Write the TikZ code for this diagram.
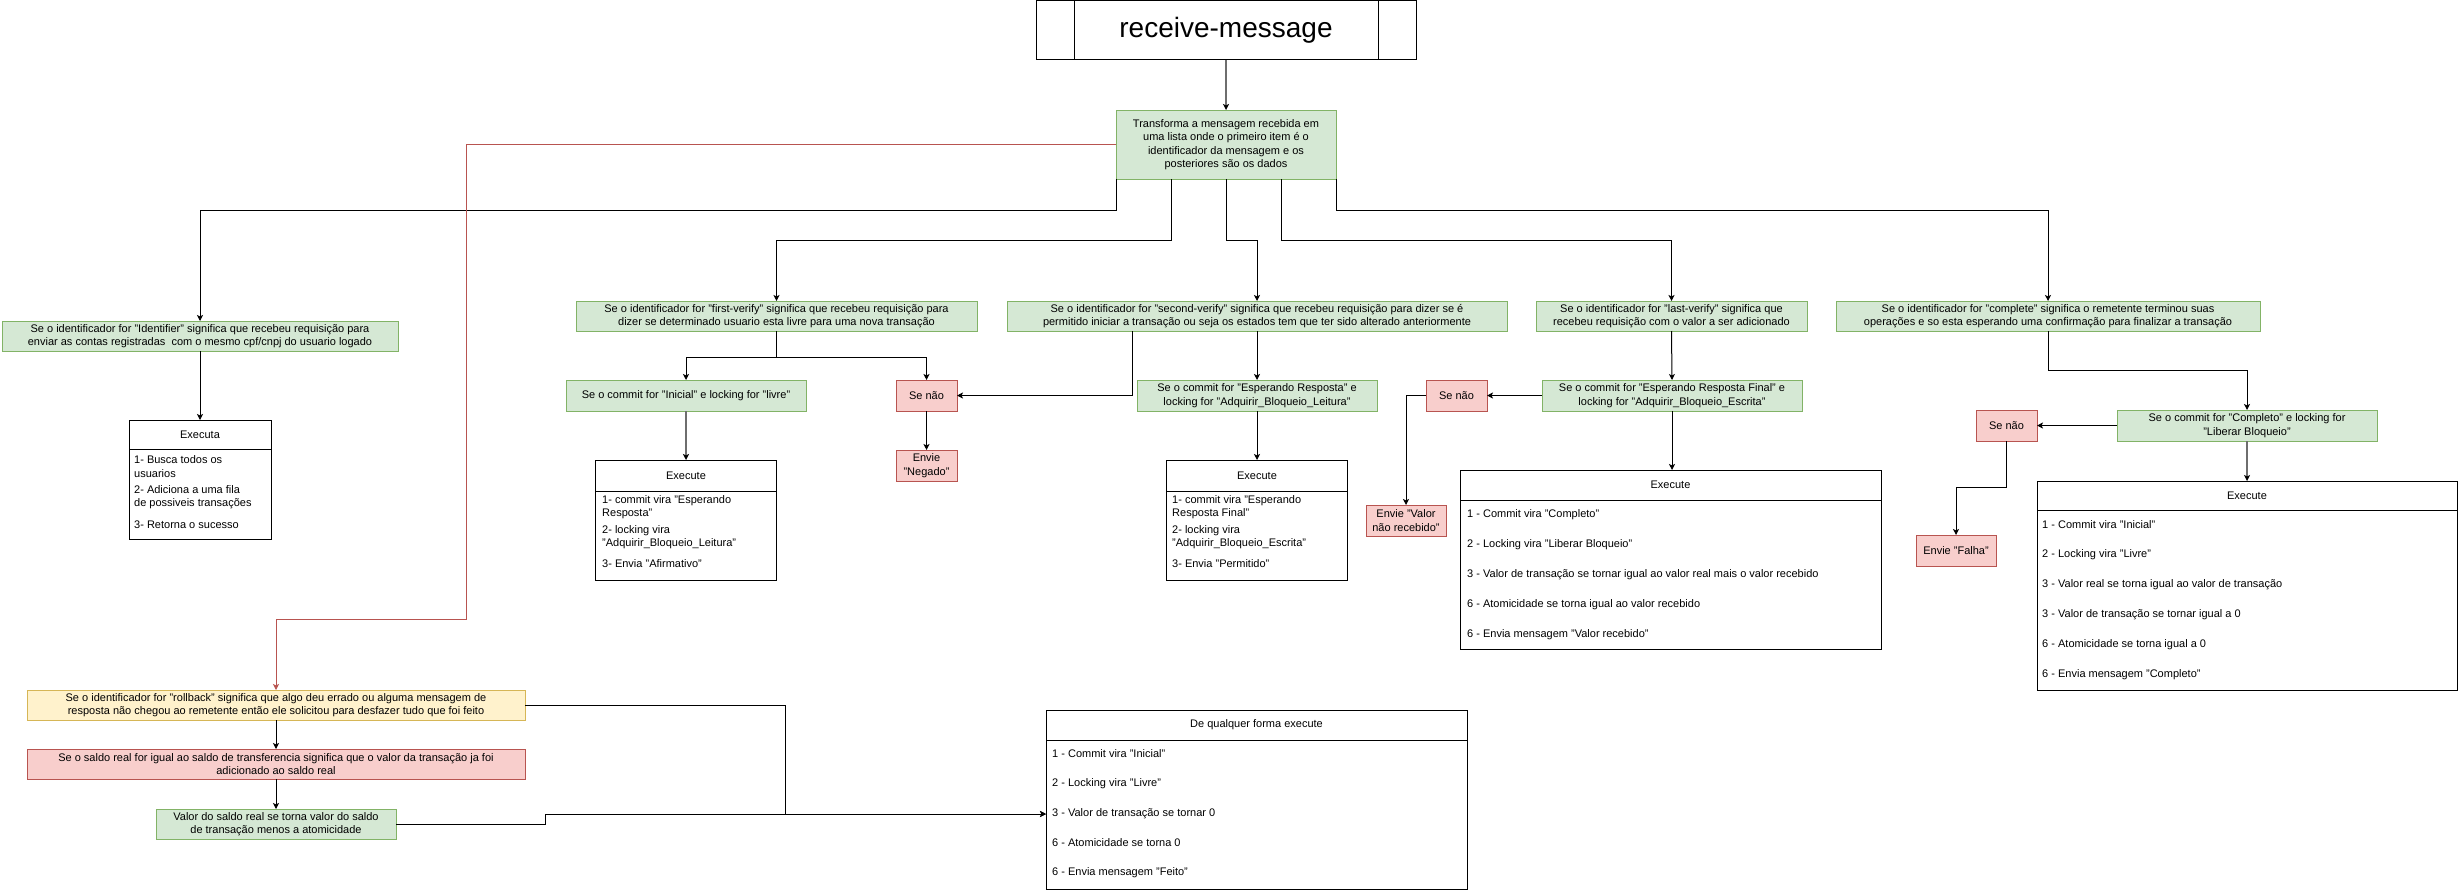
\documentclass[tikz,border=0pt]{standalone}
\usepackage{fontspec}
\setmainfont{Liberation Sans}
\usetikzlibrary{arrows.meta}

\definecolor{gfill}{HTML}{D5E8D4}
\definecolor{gline}{HTML}{82B366}
\definecolor{rfill}{HTML}{F8CECC}
\definecolor{rline}{HTML}{B85450}
\definecolor{yfill}{HTML}{FFF2CC}
\definecolor{yline}{HTML}{D6B656}
\definecolor{garrow}{HTML}{6E6E6E}

\newcommand{\txtfont}{\fontsize{11}{13.5}\selectfont}
\newcommand{\gn}{\node[gbox]}
\newcommand{\rn}{\node[rbox]}
\newcommand{\yn}{\node[ybox]}
\newcommand{\wn}{\node[wbox]}
\newcommand{\itn}{\node[item]}

\tikzset{
  base/.style={draw, line width=1pt, outer sep=0pt, align=center, inner sep=1pt, font=\txtfont},
  gbox/.style={base, draw=gline, fill=gfill},
  rbox/.style={base, draw=rline, fill=rfill},
  ybox/.style={base, draw=yline, fill=yfill},
  wbox/.style={base, draw=black, fill=white},
  item/.style={anchor=west, align=left, inner sep=0pt, font=\txtfont},
  arr/.style={line width=1pt, -{Stealth[length=6pt,width=6pt,inset=1.5pt]}},
  garr/.style={line width=1.3pt, draw=garrow, -{Stealth[length=6pt,width=6pt,inset=1.5pt,color=black,line width=0.5pt]}},
  rarr/.style={arr, draw=rline},
}

\begin{document}
\begin{tikzpicture}[x=1pt, y=-1pt]
  \useasboundingbox (0,0) rectangle (2458,891);

  % title and first step
  \wn[minimum width=380, minimum height=59, font=\fontsize{28}{32}\selectfont] (title) at (1226,30.5) {receive-message};
  \draw[line width=1pt] ([xshift=38]title.north west) -- ([xshift=38]title.south west)
                        ([xshift=-38]title.north east) -- ([xshift=-38]title.south east);
  \gn[minimum width=220, minimum height=69] (split) at (1226,144.5)
     {Transforma a mensagem recebida em\\uma lista onde o primeiro item é o\\identificador da mensagem e os\\posteriores são os dados};

  % identificadores
  \gn[minimum width=396, minimum height=30] (ident) at (200,336)
     {Se o identificador for "Identifier" significa que recebeu requisição para\\enviar as contas registradas\ \ com o mesmo cpf/cnpj do usuario logado};
  \gn[minimum width=401, minimum height=30] (first) at (776.5,316)
     {Se o identificador for "first-verify" significa que recebeu requisição para\\dizer se determinado usuario esta livre para uma nova transação};
  \gn[minimum width=500, minimum height=30] (second) at (1257,316)
     {Se o identificador for "second-verify" significa que recebeu requisição para dizer se é\\permitido iniciar a transação ou seja os estados tem que ter sido alterado anteriormente};
  \gn[minimum width=271, minimum height=30] (last) at (1671.5,316)
     {Se o identificador for "last-verify" significa que\\recebeu requisição com o valor a ser adicionado};
  \gn[minimum width=424, minimum height=30] (complete) at (2048,316)
     {Se o identificador for "complete" significa o remetente terminou suas\\operações e so esta esperando uma confirmação para finalizar a transação};

  % Identifier
  \wn[minimum width=142, minimum height=29] (exA) at (200,434.5) {Executa};
  \wn[minimum width=142, minimum height=90, anchor=north] (exAb) at (exA.south) {};
  \itn (exA1) at (134,466.5) {1- Busca todos os\\usuarios};
  \itn (exA2) at (134,497) {2- Adiciona a uma fila\\de possiveis transações};
  \itn (exA3) at (134,525) {3- Retorna o sucesso};

  % first-verify
  \gn[minimum width=240, minimum height=31] (inicial) at (686,395.5) {Se o commit for "Inicial" e locking for "livre"};
  \rn[minimum width=61, minimum height=31] (senao1) at (926.5,395.5) {Se não};
  \rn[minimum width=61, minimum height=31] (negado) at (926.5,465.5) {Envie\\"Negado"};
  \wn[minimum width=181, minimum height=31] (exB) at (686,475.5) {Execute};
  \wn[minimum width=181, minimum height=89, anchor=north] (exBb) at (exB.south) {};
  \itn (exB1) at (602,507) {1- commit vira "Esperando\\Resposta"};
  \itn (exB2) at (602,537) {2- locking vira\\"Adquirir\_Bloqueio\_Leitura"};
  \itn (exB3) at (602,564) {3- Envia "Afirmativo"};

  % second-verify
  \gn[minimum width=240, minimum height=31] (espera) at (1257,395.5) {Se o commit for "Esperando Resposta" e\\locking for "Adquirir\_Bloqueio\_Leitura"};
  \wn[minimum width=181, minimum height=31] (exC) at (1257,475.5) {Execute};
  \wn[minimum width=181, minimum height=89, anchor=north] (exCb) at (exC.south) {};
  \itn (exC1) at (1172,507) {1- commit vira "Esperando\\Resposta Final"};
  \itn (exC2) at (1172,537) {2- locking vira\\"Adquirir\_Bloqueio\_Escrita"};
  \itn (exC3) at (1172,564) {3- Envia "Permitido"};

  % last-verify
  \gn[minimum width=260, minimum height=31] (final) at (1672,395.5) {Se o commit for "Esperando Resposta Final" e\\locking for "Adquirir\_Bloqueio\_Escrita"};
  \rn[minimum width=61, minimum height=31] (senao2) at (1456.5,395.5) {Se não};
  \rn[minimum width=80, minimum height=31] (naorec) at (1406,520.5) {Envie "Valor\\não recebido"};
  \wn[minimum width=421, minimum height=30] (exD) at (1670.5,485) {Execute};
  \wn[minimum width=421, minimum height=149, anchor=north] (exDb) at (exD.south) {};
  \itn (exD1) at (1467,515) {1 - Commit vira "Completo"};
  \itn (exD2) at (1467,545) {2 - Locking vira "Liberar Bloqueio"};
  \itn (exD3) at (1467,575) {3 - Valor de transação se tornar igual ao valor real mais o valor recebido};
  \itn (exD4) at (1467,605) {6 - Atomicidade se torna igual ao valor recebido};
  \itn (exD5) at (1467,635) {6 - Envia mensagem "Valor recebido"};

  % complete
  \gn[minimum width=260, minimum height=31] (completo) at (2247,425.5) {Se o commit for "Completo" e locking for\\"Liberar Bloqueio"};
  \rn[minimum width=61, minimum height=31] (senao3) at (2006.5,425.5) {Se não};
  \rn[minimum width=80, minimum height=31] (falha) at (1956,550.5) {Envie "Falha"};
  \wn[minimum width=420, minimum height=29] (exE) at (2247,495.5) {Execute};
  \wn[minimum width=420, minimum height=180, anchor=north] (exEb) at (exE.south) {};
  \itn (exE1) at (2042,525) {1 - Commit vira "Inicial"};
  \itn (exE2) at (2042,555) {2 - Locking vira "Livre"};
  \itn (exE3) at (2042,585) {3 - Valor real se torna igual ao valor de transação};
  \itn (exE4) at (2042,615) {3 - Valor de transação se tornar igual a 0};
  \itn (exE5) at (2042,645) {6 - Atomicidade se torna igual a 0};
  \itn (exE6) at (2042,675) {6 - Envia mensagem "Completo"};

  % rollback
  \yn[minimum width=498, minimum height=30] (rollback) at (276,705)
     {Se o identificador for "rollback" significa que algo deu errado ou alguma mensagem de\\resposta não chegou ao remetente então ele solicitou para desfazer tudo que foi feito};
  \rn[minimum width=498, minimum height=30] (saldo) at (276,764)
     {Se o saldo real for igual ao saldo de transferencia significa que o valor da transação ja foi\\adicionado ao saldo real};
  \gn[minimum width=240, minimum height=30] (valor) at (276,824)
     {Valor do saldo real se torna valor do saldo\\de transação menos a atomicidade};
  \wn[minimum width=421, minimum height=30] (exF) at (1256.5,725) {De qualquer forma execute};
  \wn[minimum width=421, minimum height=149, anchor=north] (exFb) at (exF.south) {};
  \itn (exF1) at (1052,754) {1 - Commit vira "Inicial"};
  \itn (exF2) at (1052,784) {2 - Locking vira "Livre"};
  \itn (exF3) at (1052,814) {3 - Valor de transação se tornar 0};
  \itn (exF4) at (1052,843) {6 - Atomicidade se torna 0};
  \itn (exF5) at (1052,873) {6 - Envia mensagem "Feito"};

  % connectors
  \draw[garr] (title.south) -- (split.north);
  \draw[arr] (split.south west) -- ++(0,31) -| (ident.north);
  \draw[arr] ([xshift=55]split.south west) -- ++(0,61) -| (first.north);
  \draw[arr] (split.south) -- ++(0,61) -| (second.north);
  \draw[arr] ([xshift=-55]split.south east) -- ++(0,61) -| (last.north);
  \draw[arr] (split.south east) -- ++(0,31) -| (complete.north);
  \draw[rarr] (split.west) -| (466,619) -| (rollback.north);

  \draw[arr] (ident.south) -- (exA.north);

  \draw[arr] (first.south) -- ++(0,26) -| (inicial.north);
  \draw[arr] (first.south) -- ++(0,26) -| (senao1.north);
  \draw[garr] (inicial.south) -- (exB.north);
  \draw[arr] (senao1.south) -- (negado.north);

  \draw[arr] ([xshift=125]second.south west) |- (senao1.east);
  \draw[arr] (second.south) -- (espera.north);
  \draw[arr] (espera.south) -- (exC.north);

  \draw[arr] (last.south) -- (final.north);
  \draw[arr] (final.west) -- (senao2.east);
  \draw[arr] (senao2.west) -| (naorec.north);
  \draw[arr] (final.south) -- (final.south |- exD.north);

  \draw[arr] (complete.south) -- ++(0,39) -| (completo.north);
  \draw[arr] (completo.west) -- (senao3.east);
  \draw[arr] (senao3.south) -- ++(0,46) -| (falha.north);
  \draw[garr] (completo.south) -- (exE.north);

  \draw[arr] (rollback.south) -- (saldo.north);
  \draw[arr] (saldo.south) -- (valor.north);
  \draw[arr] (rollback.east) -- ++(260,0) |- (exF.west |- exF3);
  \draw[arr] (valor.east) -- ++(149,0) |- (exF.west |- exF3);
\end{tikzpicture}
\end{document}
